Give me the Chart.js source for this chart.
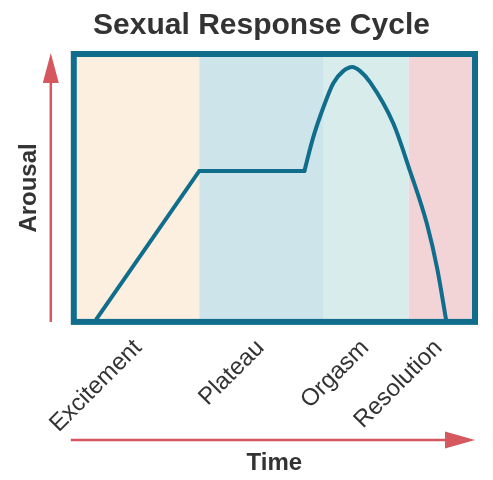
<!DOCTYPE html>
<html>
<head>
<meta charset="utf-8">
<title>Sexual Response Cycle</title>
<script src="https://cdn.jsdelivr.net/npm/chart.js@4.4.1/dist/chart.umd.min.js"></script>
<style>
    html, body { margin: 0; padding: 0; background: #ffffff; }
    #wrap { width: 493px; height: 480px; }
</style>
</head>
<body>
<div id="wrap"><canvas id="response-cycle-chart"></canvas></div>
<script>
// phases along the time axis (0-100)
const phases = ['Excitement', 'Plateau', 'Orgasm', 'Resolution'];
const phaseEdges = [0, 31, 62.5, 84, 100];
const phaseTicks = [15.5, 46.5, 73, 91.5];
const phaseColors = ['#fcefe0', '#cde4eb', '#d9ecec', '#f2d4d7'];

// arousal curve
const rampX = [5, 31, 57.6];
const rampY = [0, 56.5, 56.5];
const peakX = [57.6, 59.8, 62.4, 64.9, 67.4, 69.7, 71.7, 74.2, 80.1, 84.3, 88.6, 91.2, 93.4];
const peakY = [56.5, 69.2, 80.8, 90.0, 94.6, 96.2, 94.6, 90.4, 74.6, 56.5, 36.2, 19.2, 0];

const teal = '#116d8c';
const red = '#d4585e';
const fontFamily = "'Liberation Sans', Arial, sans-serif";

const toPoints = (xs, ys) => xs.map((x, i) => ({x: x, y: ys[i]}));

// coloured phase bands behind the curve
const phaseBands = {
    id: 'phaseBands',
    beforeDatasetsDraw(chart) {
        const {ctx, chartArea, scales} = chart;
        ctx.save();
        for (let i = 0; i < phases.length; i++) {
            const x0 = scales.x.getPixelForValue(phaseEdges[i]);
            const x1 = scales.x.getPixelForValue(phaseEdges[i + 1]);
            ctx.fillStyle = phaseColors[i];
            ctx.fillRect(x0, chartArea.top, x1 - x0, chartArea.bottom - chartArea.top);
        }
        ctx.restore();
    }
};

// thick frame plus the red axis arrows
const frameAndArrows = {
    id: 'frameAndArrows',
    afterDatasetsDraw(chart) {
        const {ctx, chartArea} = chart;
        const {left, right, top, bottom} = chartArea;
        ctx.save();
        ctx.strokeStyle = teal;
        ctx.lineWidth = 6;
        ctx.strokeRect(left - 3, top - 3, right - left + 6, bottom - top + 6);

        ctx.strokeStyle = red;
        ctx.fillStyle = red;
        ctx.lineWidth = 2.5;

        // vertical arrow
        const ax = left - 26;
        const tipY = top - 4;
        ctx.beginPath();
        ctx.moveTo(ax, bottom + 3);
        ctx.lineTo(ax, tipY + 25);
        ctx.stroke();
        ctx.beginPath();
        ctx.moveTo(ax, tipY);
        ctx.lineTo(ax - 8, tipY + 30);
        ctx.lineTo(ax + 8, tipY + 30);
        ctx.closePath();
        ctx.fill();

        // horizontal arrow
        const ay = bottom + 121;
        const tipX = right + 3;
        ctx.beginPath();
        ctx.moveTo(left - 6, ay);
        ctx.lineTo(tipX - 25, ay);
        ctx.stroke();
        ctx.beginPath();
        ctx.moveTo(tipX, ay);
        ctx.lineTo(tipX - 30, ay - 8.5);
        ctx.lineTo(tipX - 30, ay + 8.5);
        ctx.closePath();
        ctx.fill();
        ctx.restore();
    }
};

const responseCycleChart = document.getElementById('response-cycle-chart');
const responseCycle = new Chart(responseCycleChart, {
    type: 'line',
    data: {
        datasets: [{
            label: 'Excitement to plateau',
            data: toPoints(rampX, rampY),
            borderColor: teal,
            borderWidth: 4,
            borderJoinStyle: 'miter',
            borderCapStyle: 'round',
            pointRadius: 0,
            tension: 0
        }, {
            label: 'Orgasm and resolution',
            data: toPoints(peakX, peakY),
            borderColor: teal,
            borderWidth: 4,
            borderCapStyle: 'round',
            pointRadius: 0,
            cubicInterpolationMode: 'monotone'
        }]
    },
    options: {
        responsive: true,
        maintainAspectRatio: false,
        animation: false,
        layout: {
            padding: {left: 51, right: 21, top: 0, bottom: 0}
        },
        plugins: {
            legend: {display: false},
            tooltip: {enabled: false},
            title: {
                display: true,
                text: 'Sexual Response Cycle',
                color: '#333333',
                font: {family: fontFamily, size: 30, weight: 'bold'},
                padding: {top: 8, bottom: 13}
            }
        },
        scales: {
            x: {
                type: 'linear',
                min: 0,
                max: 100,
                afterBuildTicks: (scale) => {
                    scale.ticks = phaseTicks.map(v => ({value: v}));
                },
                grid: {display: false, drawTicks: false},
                border: {display: false},
                ticks: {
                    autoSkip: false,
                    minRotation: 45,
                    maxRotation: 45,
                    padding: 15,
                    color: '#333333',
                    font: {family: fontFamily, size: 24},
                    callback: (value, index) => phases[index]
                },
                title: {
                    display: true,
                    text: 'Time',
                    color: '#333333',
                    font: {family: fontFamily, size: 24, weight: 'bold'},
                    padding: {top: -4, bottom: 2}
                }
            },
            y: {
                min: 0,
                max: 100,
                grid: {display: false, drawTicks: false},
                border: {display: false},
                ticks: {display: false},
                title: {
                    display: true,
                    text: 'Arousal',
                    color: '#333333',
                    font: {family: fontFamily, size: 24, weight: 'bold'},
                    padding: {top: -36, bottom: 33}
                }
            }
        }
    },
    plugins: [phaseBands, frameAndArrows]
});
</script>
</body>
</html>
